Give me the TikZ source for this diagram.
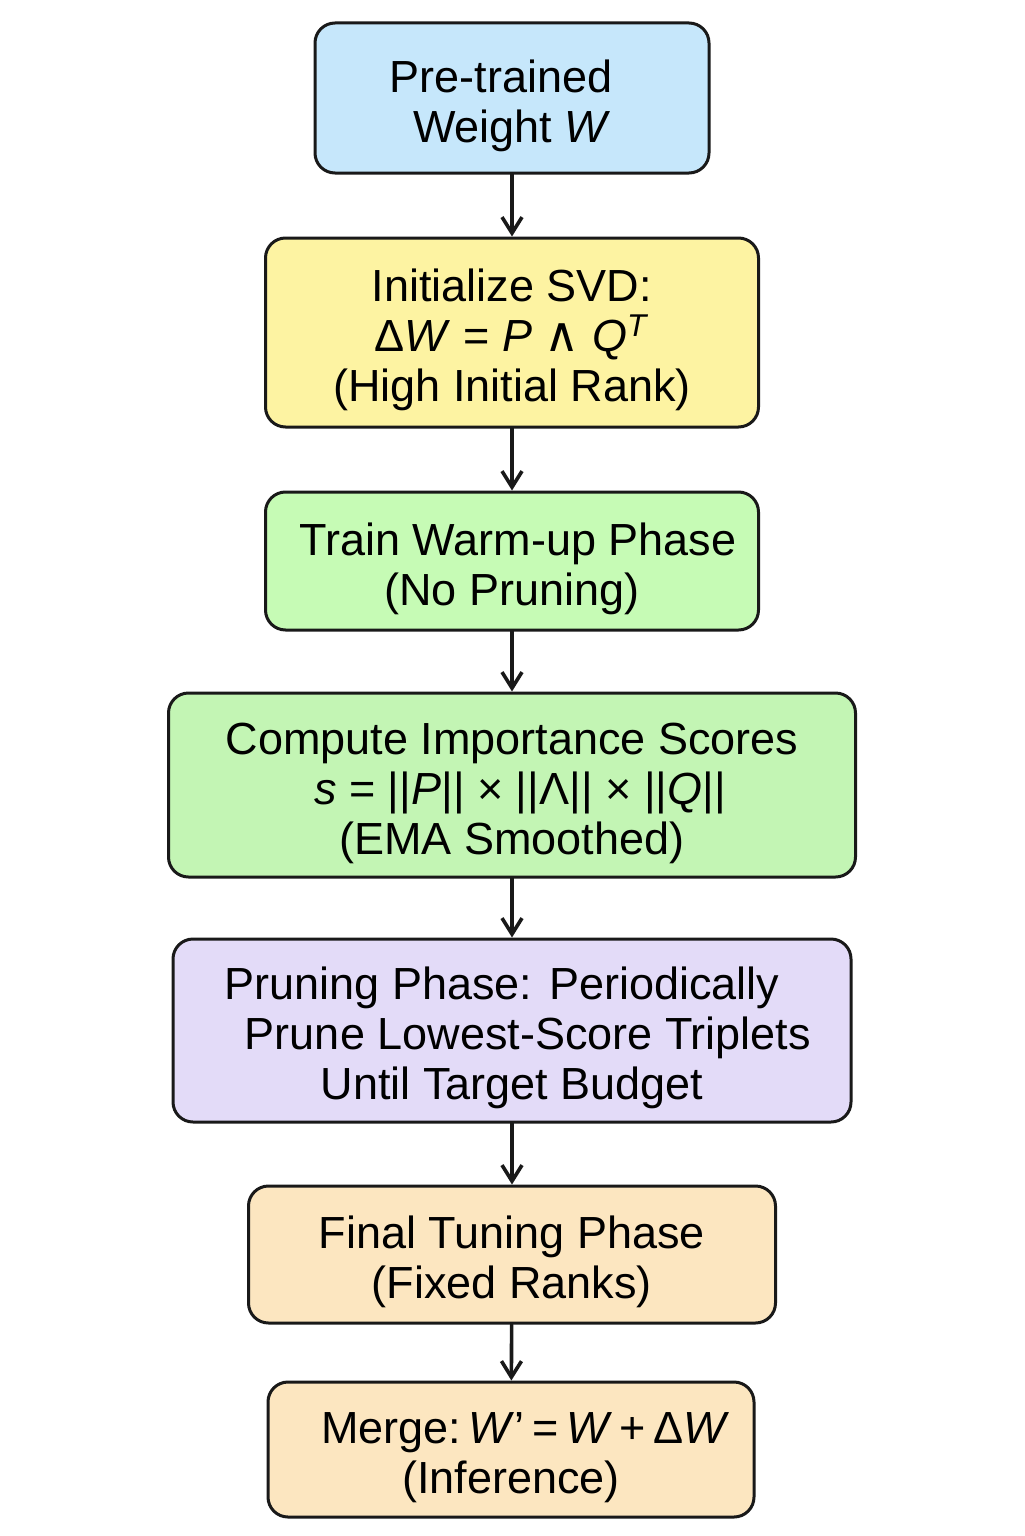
\documentclass[tikz,border=0pt]{standalone}
\usepackage{fontspec}
\setmainfont{Liberation Sans}
\newfontfamily\wedgefont{DejaVu Sans}
\usetikzlibrary{arrows.meta}
\definecolor{cblue}{HTML}{C6E7FB}
\definecolor{cyellow}{HTML}{FDF3A2}
\definecolor{cgreenA}{HTML}{C6FBB5}
\definecolor{cgreenB}{HTML}{C3F5B4}
\definecolor{clav}{HTML}{E3DBF8}
\definecolor{cpeach}{HTML}{FCE6C0}
\newcommand\lift{\rule{0pt}{24pt}}
\tikzset{
	stepbox/.style={draw=black!90,line width=1.5pt,rounded corners=10pt,align=center,inner sep=0pt,
		font=\fontsize{22.5}{25}\selectfont},
	flow/.style={-{Straight Barb[length=8pt,width=10pt,line width=1.8pt]},line width=1.8pt,black!90}
}
\begin{document}
\begin{tikzpicture}[x=0.5pt,y=-0.5pt,line join=round,line cap=round]
				\useasboundingbox (0,0) rectangle (1024,1536);
				% boxes, centres in pixels of the layout
				\node[stepbox,fill=cblue,minimum width=197pt,minimum height=75pt] (W) at (512,98) {\lift Pre-trained\hspace*{11pt}\\Weight \textit{W}};
				\node[stepbox,fill=cyellow,minimum width=246.5pt,minimum height=94.5pt] (SVD) at (512,332.5) {\lift Initialize SVD:\\Δ\textit{W} = \textit{P} {\wedgefont\fontsize{24}{25}\selectfont ∧} \textit{Q}\textsuperscript{\textit{T}}\\(High Initial Rank)};
				\node[stepbox,fill=cgreenA,minimum width=246.5pt,minimum height=69pt] (Warm) at (512,561) {\lift\hspace*{6pt}Train Warm-up Phase\\(No Pruning)};
				\node[stepbox,fill=cgreenB,minimum width=343.5pt,minimum height=92pt] (Score) at (512,785) {\lift Compute Importance Scores\\\hspace*{8pt}\textit{s} = ||\textit{P}|| × ||Λ|| × ||\textit{Q}||\\(EMA Smoothed)};
				\node[stepbox,fill=clav,minimum width=339pt,minimum height=91.5pt] (Prune) at (512,1030.5) {\lift Pruning Phase: Periodically\hspace*{10pt}\\\hspace*{16pt}Prune Lowest-Score Triplets\\Until Target Budget};
				\node[stepbox,fill=cpeach,minimum width=263.5pt,minimum height=68.5pt] (Tune) at (512,1254.5) {\lift Final Tuning Phase\\(Fixed Ranks)};
				\node[stepbox,fill=cpeach,minimum width=243pt,minimum height=67.5pt] (Merge) at (511,1449.5) {\lift\hspace*{14.5pt}Merge:\,\textit{W}’\,=\,\textit{W}\,+\,Δ\textit{W}\\(Inference)};
				% connectors
				\foreach \a/\b in {W/SVD,SVD/Warm,Warm/Score,Score/Prune,Prune/Tune,Tune/Merge}
				\draw[flow] (\a) -- (\b);
			\end{tikzpicture}
\end{document}
